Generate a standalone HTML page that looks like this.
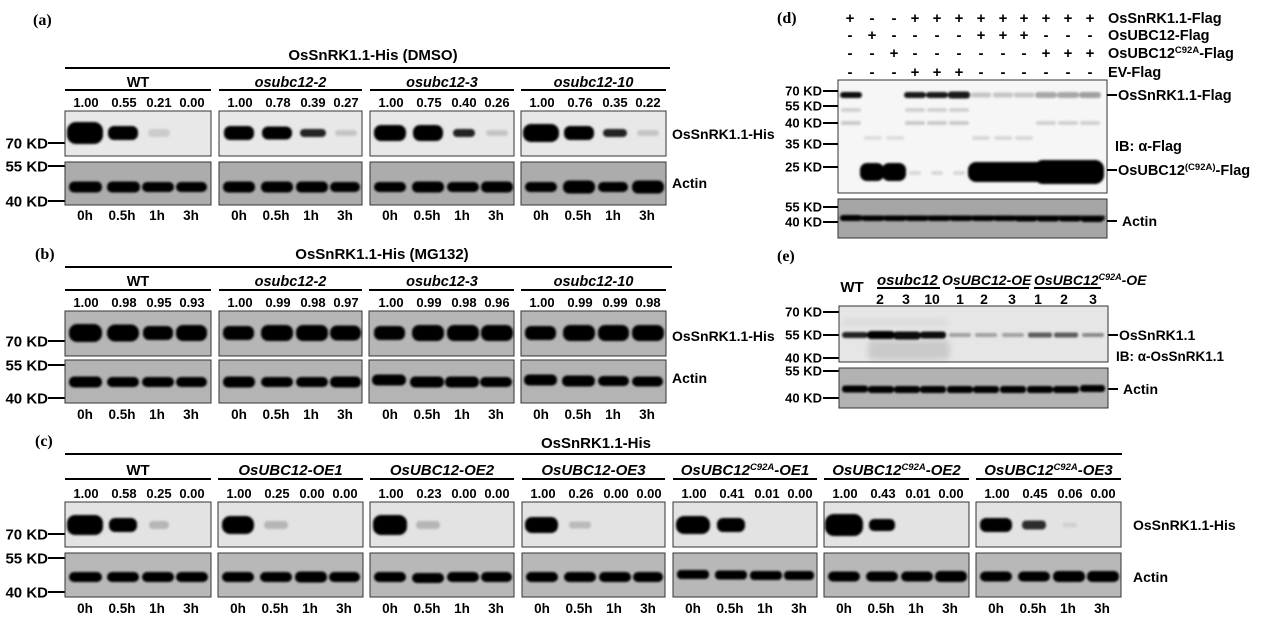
<!DOCTYPE html>
<html><head><meta charset="utf-8">
<style>
html,body{margin:0;padding:0;background:#fff;}
svg{display:block}
text{font-family:"Liberation Sans",Arial,sans-serif;font-weight:bold;fill:#000}
.n{font-size:13px;text-anchor:middle}
.h{font-size:13.5px;text-anchor:middle}
.g{font-size:14.5px;text-anchor:middle}
.gc{font-size:15px;text-anchor:middle;font-style:italic}
.i{font-style:italic}
.m{font-size:15px;text-anchor:end}
.m2{font-size:13px;text-anchor:end}
.p{font-family:"Liberation Serif",serif;font-size:16px}
.r{font-size:14px}
.rl{font-size:14.5px}
.pm{font-size:15px;text-anchor:middle}
</style></head><body>
<svg width="1279" height="621" viewBox="0 0 1279 621" xmlns="http://www.w3.org/2000/svg">
<defs>
<filter id="f" x="-30%" y="-100%" width="160%" height="300%"><feGaussianBlur stdDeviation="1"/></filter>
<filter id="f3" x="-30%" y="-100%" width="160%" height="300%"><feGaussianBlur stdDeviation="3"/></filter>
</defs>

<!-- ================= (a) ================= -->
<text class="p" x="33" y="25">(a)</text>
<text class="g" x="373" y="60" style="font-size:15px">OsSnRK1.1-His (DMSO)</text>
<g stroke="#000" stroke-width="2">
<line x1="65" y1="68" x2="670" y2="68"/>
<line x1="65" y1="90" x2="211" y2="90"/>
<line x1="219" y1="90" x2="362" y2="90"/>
<line x1="370" y1="90" x2="514" y2="90"/>
<line x1="521" y1="90" x2="666" y2="90"/>
<line x1="48" y1="143" x2="65" y2="143"/>
<line x1="48" y1="166" x2="65" y2="166"/>
<line x1="48" y1="201" x2="65" y2="201"/>
</g>
<text class="g" x="138" y="87">WT</text>
<text class="g i" x="290.5" y="87">osubc12-2</text>
<text class="g i" x="442" y="87">osubc12-3</text>
<text class="g i" x="593.5" y="87">osubc12-10</text>

<text class="n" x="86" y="107">1.00</text><text class="n" x="124" y="107">0.55</text><text class="n" x="159" y="107">0.21</text><text class="n" x="192" y="107">0.00</text>
<text class="n" x="240" y="107">1.00</text><text class="n" x="278" y="107">0.78</text><text class="n" x="313" y="107">0.39</text><text class="n" x="346" y="107">0.27</text>
<text class="n" x="391" y="107">1.00</text><text class="n" x="429" y="107">0.75</text><text class="n" x="464" y="107">0.40</text><text class="n" x="497" y="107">0.26</text>
<text class="n" x="542" y="107">1.00</text><text class="n" x="580" y="107">0.76</text><text class="n" x="615" y="107">0.35</text><text class="n" x="648" y="107">0.22</text>

<g stroke="#333" stroke-width="1">
<rect x="65" y="111" width="146" height="45" fill="#e8e8e8"/>
<rect x="219" y="111" width="143" height="45" fill="#e8e8e8"/>
<rect x="370" y="111" width="144" height="45" fill="#e8e8e8"/>
<rect x="521" y="111" width="145" height="45" fill="#e8e8e8"/>
<rect x="65" y="162" width="146" height="43" fill="#acacac"/>
<rect x="219" y="162" width="143" height="43" fill="#acacac"/>
<rect x="370" y="162" width="144" height="43" fill="#acacac"/>
<rect x="521" y="162" width="145" height="43" fill="#acacac"/>
</g>
<g filter="url(#f)" fill="#000">
<rect x="67" y="122" width="36" height="22" rx="9"/>
<rect x="108" y="126" width="30" height="14" rx="6"/>
<rect x="148" y="129" width="22" height="8" rx="4" opacity=".12"/>
<rect x="224" y="126" width="30" height="14" rx="6"/>
<rect x="262" y="126.5" width="30" height="13" rx="6"/>
<rect x="300" y="129" width="26" height="8" rx="4" opacity=".85"/>
<rect x="335" y="130" width="22" height="6" rx="3" opacity=".15"/>
<rect x="374" y="125" width="32" height="16" rx="7"/>
<rect x="413" y="125" width="30" height="16" rx="7"/>
<rect x="453" y="129" width="22" height="8" rx="4" opacity=".85"/>
<rect x="486" y="130" width="22" height="6" rx="3" opacity=".15"/>
<rect x="523" y="124" width="36" height="18" rx="8"/>
<rect x="564" y="126" width="30" height="14" rx="6"/>
<rect x="603" y="129" width="24" height="8" rx="4" opacity=".85"/>
<rect x="637" y="130" width="22" height="6" rx="3" opacity=".15"/>
<!-- actin -->
<rect x="69" y="181.5" width="33" height="11" rx="5"/><rect x="107" y="181.5" width="33" height="11" rx="5"/><rect x="142" y="182" width="32" height="10" rx="5"/><rect x="176" y="182" width="31" height="10" rx="5"/>
<rect x="223" y="181.5" width="32" height="11" rx="5"/><rect x="261" y="181.5" width="32" height="11" rx="5"/><rect x="296" y="181.5" width="32" height="11" rx="5"/><rect x="330" y="182" width="30" height="10" rx="5"/>
<rect x="374" y="182" width="32" height="10" rx="5"/><rect x="412" y="181.5" width="32" height="11" rx="5"/><rect x="447" y="182" width="32" height="10" rx="5"/><rect x="481" y="181.5" width="32" height="11" rx="5"/>
<rect x="525" y="182" width="32" height="10" rx="5"/><rect x="563" y="180.5" width="32" height="13" rx="6"/><rect x="598" y="182" width="30" height="10" rx="5"/><rect x="632" y="180.5" width="32" height="13" rx="6"/>
</g>
<text class="m" x="48" y="148.5">70 KD</text>
<text class="m" x="48" y="171.5">55 KD</text>
<text class="m" x="48" y="206.5">40 KD</text>
<text class="r" x="672" y="139">OsSnRK1.1-His</text>
<text class="r" x="672" y="188">Actin</text>

<text class="h" x="85" y="220">0h</text><text class="h" x="122" y="220">0.5h</text><text class="h" x="157" y="220">1h</text><text class="h" x="191" y="220">3h</text>
<text class="h" x="239" y="220">0h</text><text class="h" x="276" y="220">0.5h</text><text class="h" x="311" y="220">1h</text><text class="h" x="345" y="220">3h</text>
<text class="h" x="390" y="220">0h</text><text class="h" x="427" y="220">0.5h</text><text class="h" x="462" y="220">1h</text><text class="h" x="496" y="220">3h</text>
<text class="h" x="541" y="220">0h</text><text class="h" x="578" y="220">0.5h</text><text class="h" x="613" y="220">1h</text><text class="h" x="647" y="220">3h</text>

<!-- ================= (b) ================= -->
<text class="p" x="35" y="259">(b)</text>
<text class="g" x="382" y="259" style="font-size:15px">OsSnRK1.1-His (MG132)</text>
<g stroke="#000" stroke-width="2">
<line x1="65" y1="267" x2="672" y2="267"/>
<line x1="65" y1="290" x2="211" y2="290"/>
<line x1="219" y1="290" x2="362" y2="290"/>
<line x1="369" y1="290" x2="514" y2="290"/>
<line x1="521" y1="290" x2="666" y2="290"/>
<line x1="48" y1="341" x2="65" y2="341"/>
<line x1="48" y1="365" x2="65" y2="365"/>
<line x1="48" y1="398" x2="65" y2="398"/>
</g>
<text class="g" x="138" y="286">WT</text>
<text class="g i" x="290.5" y="286">osubc12-2</text>
<text class="g i" x="442" y="286">osubc12-3</text>
<text class="g i" x="593.5" y="286">osubc12-10</text>

<text class="n" x="86" y="307">1.00</text><text class="n" x="124" y="307">0.98</text><text class="n" x="159" y="307">0.95</text><text class="n" x="192" y="307">0.93</text>
<text class="n" x="240" y="307">1.00</text><text class="n" x="278" y="307">0.99</text><text class="n" x="313" y="307">0.98</text><text class="n" x="346" y="307">0.97</text>
<text class="n" x="391" y="307">1.00</text><text class="n" x="429" y="307">0.99</text><text class="n" x="464" y="307">0.98</text><text class="n" x="497" y="307">0.96</text>
<text class="n" x="542" y="307">1.00</text><text class="n" x="580" y="307">0.99</text><text class="n" x="615" y="307">0.99</text><text class="n" x="648" y="307">0.98</text>

<g stroke="#333" stroke-width="1">
<rect x="65" y="311" width="146" height="45" fill="#b6b6b6"/>
<rect x="219" y="311" width="143" height="45" fill="#b6b6b6"/>
<rect x="369" y="311" width="145" height="45" fill="#b6b6b6"/>
<rect x="521" y="311" width="145" height="45" fill="#b6b6b6"/>
<rect x="65" y="360" width="146" height="43" fill="#b4b4b4"/>
<rect x="219" y="360" width="143" height="43" fill="#b4b4b4"/>
<rect x="369" y="360" width="145" height="43" fill="#b4b4b4"/>
<rect x="521" y="360" width="145" height="43" fill="#b4b4b4"/>
</g>
<g filter="url(#f)" fill="#000">
<rect x="69" y="324" width="33" height="18" rx="8"/><rect x="107" y="324.5" width="32" height="17" rx="8"/><rect x="143" y="326" width="30" height="14" rx="6"/><rect x="176" y="325" width="31" height="16" rx="7"/>
<rect x="223" y="326" width="31" height="14" rx="6"/><rect x="261" y="325" width="32" height="16" rx="7"/><rect x="296" y="325" width="32" height="16" rx="7"/><rect x="330" y="325.5" width="31" height="15" rx="7"/>
<rect x="374" y="326" width="31" height="14" rx="6"/><rect x="412" y="325" width="32" height="16" rx="7"/><rect x="447" y="325" width="32" height="16" rx="7"/><rect x="481" y="325" width="32" height="16" rx="7"/>
<rect x="525" y="326" width="31" height="14" rx="6"/><rect x="563" y="325" width="32" height="16" rx="7"/><rect x="598" y="325" width="31" height="16" rx="7"/><rect x="632" y="325" width="32" height="16" rx="7"/>
<!-- actin -->
<rect x="69" y="376.5" width="33" height="11" rx="5"/><rect x="107" y="377" width="32" height="10" rx="5"/><rect x="142" y="377" width="32" height="10" rx="5"/><rect x="176" y="377" width="31" height="10" rx="5"/>
<rect x="223" y="376.5" width="32" height="11" rx="5"/><rect x="261" y="377" width="32" height="10" rx="5"/><rect x="296" y="377" width="32" height="10" rx="5"/><rect x="330" y="376.5" width="31" height="11" rx="5"/>
<rect x="372" y="374.5" width="34" height="11" rx="5"/><rect x="410" y="376.5" width="34" height="11" rx="5"/><rect x="445" y="376.5" width="34" height="11" rx="5"/><rect x="480" y="377" width="32" height="10" rx="5"/>
<rect x="524" y="374.5" width="33" height="11" rx="5"/><rect x="562" y="375.5" width="33" height="11" rx="5"/><rect x="598" y="376" width="31" height="10" rx="5"/><rect x="632" y="376.5" width="31" height="10" rx="5"/>
</g>
<text class="m" x="48" y="346.5">70 KD</text>
<text class="m" x="48" y="370.5">55 KD</text>
<text class="m" x="48" y="403.5">40 KD</text>
<text class="r" x="672" y="341">OsSnRK1.1-His</text>
<text class="r" x="672" y="383">Actin</text>

<text class="h" x="85" y="419">0h</text><text class="h" x="122" y="419">0.5h</text><text class="h" x="157" y="419">1h</text><text class="h" x="191" y="419">3h</text>
<text class="h" x="239" y="419">0h</text><text class="h" x="276" y="419">0.5h</text><text class="h" x="311" y="419">1h</text><text class="h" x="345" y="419">3h</text>
<text class="h" x="390" y="419">0h</text><text class="h" x="427" y="419">0.5h</text><text class="h" x="462" y="419">1h</text><text class="h" x="496" y="419">3h</text>
<text class="h" x="541" y="419">0h</text><text class="h" x="578" y="419">0.5h</text><text class="h" x="613" y="419">1h</text><text class="h" x="647" y="419">3h</text>

<!-- ================= (c) ================= -->
<text class="p" x="35" y="446">(c)</text>
<text class="g" x="596" y="448" style="font-size:15px">OsSnRK1.1-His</text>
<g stroke="#000" stroke-width="2">
<line x1="65" y1="454" x2="1122" y2="454"/>
<line x1="65" y1="479" x2="211" y2="479"/>
<line x1="218" y1="479" x2="363" y2="479"/>
<line x1="370" y1="479" x2="514" y2="479"/>
<line x1="522" y1="479" x2="665" y2="479"/>
<line x1="673" y1="479" x2="817" y2="479"/>
<line x1="824" y1="479" x2="969" y2="479"/>
<line x1="976" y1="479" x2="1121" y2="479"/>
<line x1="48" y1="534" x2="65" y2="534"/>
<line x1="48" y1="558" x2="65" y2="558"/>
<line x1="48" y1="592" x2="65" y2="592"/>
</g>
<text class="g" x="138" y="475" style="font-size:15px">WT</text>
<text class="gc" x="290.5" y="475">OsUBC12-OE1</text>
<text class="gc" x="442" y="475">OsUBC12-OE2</text>
<text class="gc" x="593.5" y="475">OsUBC12-OE3</text>
<text class="gc" x="745" y="475">OsUBC12<tspan font-size="9.5" dy="-5">C92A</tspan><tspan dy="5">-OE1</tspan></text>
<text class="gc" x="896.5" y="475">OsUBC12<tspan font-size="9.5" dy="-5">C92A</tspan><tspan dy="5">-OE2</tspan></text>
<text class="gc" x="1048.5" y="475">OsUBC12<tspan font-size="9.5" dy="-5">C92A</tspan><tspan dy="5">-OE3</tspan></text>

<text class="n" x="86" y="498">1.00</text><text class="n" x="124" y="498">0.58</text><text class="n" x="159" y="498">0.25</text><text class="n" x="192" y="498">0.00</text>
<text class="n" x="239" y="498">1.00</text><text class="n" x="277" y="498">0.25</text><text class="n" x="312" y="498">0.00</text><text class="n" x="345" y="498">0.00</text>
<text class="n" x="391" y="498">1.00</text><text class="n" x="429" y="498">0.23</text><text class="n" x="464" y="498">0.00</text><text class="n" x="497" y="498">0.00</text>
<text class="n" x="543" y="498">1.00</text><text class="n" x="581" y="498">0.26</text><text class="n" x="616" y="498">0.00</text><text class="n" x="649" y="498">0.00</text>
<text class="n" x="694" y="498">1.00</text><text class="n" x="732" y="498">0.41</text><text class="n" x="767" y="498">0.01</text><text class="n" x="800" y="498">0.00</text>
<text class="n" x="845" y="498">1.00</text><text class="n" x="883" y="498">0.43</text><text class="n" x="918" y="498">0.01</text><text class="n" x="951" y="498">0.00</text>
<text class="n" x="997" y="498">1.00</text><text class="n" x="1035" y="498">0.45</text><text class="n" x="1070" y="498">0.06</text><text class="n" x="1103" y="498">0.00</text>

<g stroke="#333" stroke-width="1">
<rect x="65" y="502" width="146" height="45" fill="#e3e3e3"/>
<rect x="218" y="502" width="145" height="45" fill="#e3e3e3"/>
<rect x="370" y="502" width="144" height="45" fill="#e3e3e3"/>
<rect x="522" y="502" width="143" height="45" fill="#e3e3e3"/>
<rect x="673" y="502" width="144" height="45" fill="#e3e3e3"/>
<rect x="824" y="502" width="145" height="45" fill="#e3e3e3"/>
<rect x="976" y="502" width="145" height="45" fill="#e3e3e3"/>
<rect x="65" y="553" width="146" height="44" fill="#b8b8b8"/>
<rect x="218" y="553" width="145" height="44" fill="#b8b8b8"/>
<rect x="370" y="553" width="144" height="44" fill="#b8b8b8"/>
<rect x="522" y="553" width="143" height="44" fill="#b8b8b8"/>
<rect x="673" y="553" width="144" height="44" fill="#b8b8b8"/>
<rect x="824" y="553" width="145" height="44" fill="#b8b8b8"/>
<rect x="976" y="553" width="145" height="44" fill="#b8b8b8"/>
</g>
<g filter="url(#f)" fill="#000">
<rect x="67" y="515" width="36" height="20" rx="8"/>
<rect x="109" y="518" width="28" height="14" rx="6"/>
<rect x="149" y="521" width="20" height="8" rx="4" opacity=".2"/>
<rect x="222" y="516" width="32" height="18" rx="8"/>
<rect x="264" y="521" width="24" height="8" rx="4" opacity=".2"/>
<rect x="373" y="515" width="34" height="20" rx="8"/>
<rect x="416" y="521" width="24" height="8" rx="4" opacity=".2"/>
<rect x="525" y="517" width="33" height="16" rx="7"/>
<rect x="569" y="521.5" width="22" height="7" rx="3" opacity=".18"/>
<rect x="676" y="516" width="34" height="18" rx="8"/>
<rect x="717" y="518" width="28" height="14" rx="6"/>
<rect x="825" y="514" width="38" height="22" rx="9"/>
<rect x="869" y="519" width="26" height="12" rx="5"/>
<rect x="980" y="518" width="32" height="14" rx="6"/>
<rect x="1022" y="520.5" width="24" height="9" rx="4" opacity=".8"/>
<rect x="1063" y="522.5" width="14" height="5" rx="2" opacity=".08"/>
<!-- actin -->
<rect x="69" y="572" width="33" height="10" rx="5"/><rect x="107" y="572" width="32" height="10" rx="5"/><rect x="142" y="572" width="32" height="10" rx="5"/><rect x="176" y="572" width="32" height="10" rx="5"/>
<rect x="222" y="572" width="32" height="10" rx="5"/><rect x="260" y="572" width="32" height="10" rx="5"/><rect x="295" y="571.5" width="32" height="11" rx="5"/><rect x="329" y="572" width="31" height="10" rx="5"/>
<rect x="374" y="572" width="32" height="10" rx="5"/><rect x="412" y="573" width="32" height="10" rx="5"/><rect x="447" y="572" width="32" height="10" rx="5"/><rect x="481" y="572" width="31" height="10" rx="5"/>
<rect x="526" y="572" width="32" height="10" rx="5"/><rect x="564" y="572" width="32" height="10" rx="5"/><rect x="599" y="572" width="32" height="10" rx="5"/><rect x="633" y="572" width="30" height="10" rx="5"/>
<rect x="677" y="570" width="32" height="9" rx="4"/><rect x="715" y="570.5" width="32" height="9" rx="4"/><rect x="750" y="571" width="32" height="9" rx="4"/><rect x="784" y="571" width="30" height="9" rx="4"/>
<rect x="828" y="571.5" width="32" height="10" rx="5"/><rect x="866" y="571.5" width="32" height="10" rx="5"/><rect x="901" y="571.5" width="32" height="10" rx="5"/><rect x="935" y="571" width="32" height="11" rx="5"/>
<rect x="980" y="571.5" width="32" height="10" rx="5"/><rect x="1018" y="571.5" width="32" height="10" rx="5"/><rect x="1053" y="571" width="32" height="11" rx="5"/><rect x="1087" y="571" width="32" height="11" rx="5"/>
</g>
<text class="m" x="48" y="539.5">70 KD</text>
<text class="m" x="48" y="563.5">55 KD</text>
<text class="m" x="48" y="597.5">40 KD</text>
<text class="r" x="1133" y="530">OsSnRK1.1-His</text>
<text class="r" x="1133" y="582">Actin</text>

<text class="h" x="85" y="613">0h</text><text class="h" x="122" y="613">0.5h</text><text class="h" x="157" y="613">1h</text><text class="h" x="191" y="613">3h</text>
<text class="h" x="238" y="613">0h</text><text class="h" x="275" y="613">0.5h</text><text class="h" x="310" y="613">1h</text><text class="h" x="344" y="613">3h</text>
<text class="h" x="390" y="613">0h</text><text class="h" x="427" y="613">0.5h</text><text class="h" x="462" y="613">1h</text><text class="h" x="496" y="613">3h</text>
<text class="h" x="542" y="613">0h</text><text class="h" x="579" y="613">0.5h</text><text class="h" x="614" y="613">1h</text><text class="h" x="648" y="613">3h</text>
<text class="h" x="693" y="613">0h</text><text class="h" x="730" y="613">0.5h</text><text class="h" x="765" y="613">1h</text><text class="h" x="799" y="613">3h</text>
<text class="h" x="844" y="613">0h</text><text class="h" x="881" y="613">0.5h</text><text class="h" x="916" y="613">1h</text><text class="h" x="950" y="613">3h</text>
<text class="h" x="996" y="613">0h</text><text class="h" x="1033" y="613">0.5h</text><text class="h" x="1068" y="613">1h</text><text class="h" x="1102" y="613">3h</text>

<!-- ================= (d) ================= -->
<text class="p" x="777" y="23">(d)</text>
<!-- row 1 -->
<text class="pm" x="850" y="23">+</text><text class="pm" x="872" y="23">-</text><text class="pm" x="894" y="23">-</text><text class="pm" x="915" y="23">+</text><text class="pm" x="937" y="23">+</text><text class="pm" x="959" y="23">+</text><text class="pm" x="981" y="23">+</text><text class="pm" x="1003" y="23">+</text><text class="pm" x="1024" y="23">+</text><text class="pm" x="1046" y="23">+</text><text class="pm" x="1068" y="23">+</text><text class="pm" x="1090" y="23">+</text>
<!-- row 2 -->
<text class="pm" x="850" y="40">-</text><text class="pm" x="872" y="40">+</text><text class="pm" x="894" y="40">-</text><text class="pm" x="915" y="40">-</text><text class="pm" x="937" y="40">-</text><text class="pm" x="959" y="40">-</text><text class="pm" x="981" y="40">+</text><text class="pm" x="1003" y="40">+</text><text class="pm" x="1024" y="40">+</text><text class="pm" x="1046" y="40">-</text><text class="pm" x="1068" y="40">-</text><text class="pm" x="1090" y="40">-</text>
<!-- row 3 -->
<text class="pm" x="850" y="58">-</text><text class="pm" x="872" y="58">-</text><text class="pm" x="894" y="58">+</text><text class="pm" x="915" y="58">-</text><text class="pm" x="937" y="58">-</text><text class="pm" x="959" y="58">-</text><text class="pm" x="981" y="58">-</text><text class="pm" x="1003" y="58">-</text><text class="pm" x="1024" y="58">-</text><text class="pm" x="1046" y="58">+</text><text class="pm" x="1068" y="58">+</text><text class="pm" x="1090" y="58">+</text>
<!-- row 4 -->
<text class="pm" x="850" y="77">-</text><text class="pm" x="872" y="77">-</text><text class="pm" x="894" y="77">-</text><text class="pm" x="915" y="77">+</text><text class="pm" x="937" y="77">+</text><text class="pm" x="959" y="77">+</text><text class="pm" x="981" y="77">-</text><text class="pm" x="1003" y="77">-</text><text class="pm" x="1024" y="77">-</text><text class="pm" x="1046" y="77">-</text><text class="pm" x="1068" y="77">-</text><text class="pm" x="1090" y="77">-</text>

<text class="rl" x="1108" y="23">OsSnRK1.1-Flag</text>
<text class="rl" x="1108" y="40">OsUBC12-Flag</text>
<text class="rl" x="1108" y="58">OsUBC12<tspan font-size="9.5" dy="-5">C92A</tspan><tspan dy="5">-Flag</tspan></text>
<text class="rl" x="1108" y="77">EV-Flag</text>

<g stroke="#333" stroke-width="1">
<rect x="838" y="80" width="269" height="113" fill="#f6f6f6"/>
<rect x="838" y="199" width="269" height="39" fill="#a6a6a6"/>
</g>
<g filter="url(#f)" fill="#000">
<rect x="840" y="92" width="22" height="6" rx="3" opacity=".95"/>
<rect x="904" y="92" width="22" height="6" rx="3" opacity=".9"/>
<rect x="926" y="92" width="22" height="6" rx="3" opacity=".9"/>
<rect x="948" y="91.5" width="22" height="7" rx="3" opacity=".9"/>
<rect x="971" y="92.5" width="20" height="5" rx="2" opacity=".2"/>
<rect x="993" y="92.5" width="20" height="5" rx="2" opacity=".2"/>
<rect x="1014" y="92.5" width="20" height="5" rx="2" opacity=".2"/>
<rect x="1035" y="92" width="22" height="6" rx="3" opacity=".32"/>
<rect x="1057" y="92" width="22" height="6" rx="3" opacity=".32"/>
<rect x="1079" y="92" width="22" height="6" rx="3" opacity=".35"/>
<!-- faint bands -->
<rect x="841" y="108" width="20" height="4" rx="2" opacity=".15"/>
<rect x="905" y="108" width="20" height="4" rx="2" opacity=".15"/>
<rect x="927" y="108" width="20" height="4" rx="2" opacity=".15"/>
<rect x="949" y="108" width="20" height="4" rx="2" opacity=".15"/>
<rect x="841" y="121" width="20" height="4" rx="2" opacity=".18"/>
<rect x="905" y="121" width="20" height="4" rx="2" opacity=".18"/>
<rect x="927" y="121" width="20" height="4" rx="2" opacity=".18"/>
<rect x="949" y="121" width="20" height="4" rx="2" opacity=".18"/>
<rect x="1036" y="121" width="20" height="4" rx="2" opacity=".15"/>
<rect x="1058" y="121" width="20" height="4" rx="2" opacity=".15"/>
<rect x="1080" y="121" width="20" height="4" rx="2" opacity=".15"/>
<rect x="864" y="136" width="18" height="4" rx="2" opacity=".1"/>
<rect x="886" y="136" width="18" height="4" rx="2" opacity=".1"/>
<rect x="972" y="136" width="18" height="4" rx="2" opacity=".12"/>
<rect x="994" y="136" width="18" height="4" rx="2" opacity=".12"/>
<rect x="1015" y="136" width="18" height="4" rx="2" opacity=".12"/>
<!-- 25 KD -->
<rect x="860" y="163" width="24" height="18" rx="7"/>
<rect x="882" y="163" width="24" height="18" rx="7"/>
<rect x="909" y="171" width="12" height="4" rx="2" opacity=".12"/>
<rect x="931" y="171" width="12" height="4" rx="2" opacity=".12"/>
<rect x="953" y="171" width="12" height="4" rx="2" opacity=".12"/>
<rect x="968" y="162" width="136" height="20" rx="8"/>
<rect x="1034" y="160" width="70" height="24" rx="9"/>
<!-- actin -->
<rect x="840" y="215.5" width="265" height="5" rx="2" opacity=".85"/>
<rect x="840" y="215" width="22" height="6" rx="3"/><rect x="862" y="215.5" width="22" height="5.5" rx="3"/><rect x="884" y="215.5" width="22" height="5.5" rx="3"/><rect x="906" y="215.5" width="22" height="5.5" rx="3"/><rect x="928" y="215.5" width="22" height="5.5" rx="3"/><rect x="950" y="215.5" width="22" height="5.5" rx="3"/><rect x="972" y="215.5" width="22" height="5.5" rx="3"/><rect x="994" y="215.5" width="22" height="5.5" rx="3"/><rect x="1015" y="216" width="22" height="5.5" rx="3"/><rect x="1037" y="216" width="22" height="5.5" rx="3"/><rect x="1059" y="216" width="22" height="5.5" rx="3"/><rect x="1081" y="216.5" width="22" height="5.5" rx="3"/>
</g>
<g stroke="#000" stroke-width="2">
<line x1="823" y1="91" x2="838" y2="91"/>
<line x1="823" y1="106" x2="838" y2="106"/>
<line x1="823" y1="123" x2="838" y2="123"/>
<line x1="823" y1="144" x2="838" y2="144"/>
<line x1="823" y1="167" x2="838" y2="167"/>
<line x1="823" y1="207" x2="838" y2="207"/>
<line x1="823" y1="222" x2="838" y2="222"/>
<line x1="1107" y1="95" x2="1117" y2="95"/>
<line x1="1107" y1="170" x2="1117" y2="170"/>
<line x1="1107" y1="221" x2="1117" y2="221"/>
</g>
<text class="m2" x="822" y="95.5">70 KD</text>
<text class="m2" x="822" y="110.5">55 KD</text>
<text class="m2" x="822" y="127.5">40 KD</text>
<text class="m2" x="822" y="148.5">35 KD</text>
<text class="m2" x="822" y="171.5">25 KD</text>
<text class="m2" x="822" y="211.5">55 KD</text>
<text class="m2" x="822" y="226.5">40 KD</text>
<text class="rl" x="1118" y="100">OsSnRK1.1-Flag</text>
<text class="rl" x="1115" y="151">IB: α-Flag</text>
<text class="rl" x="1118" y="175">OsUBC12<tspan font-size="9.5" dy="-5">(C92A)</tspan><tspan dy="5">-Flag</tspan></text>
<text class="r" x="1122" y="226">Actin</text>

<!-- ================= (e) ================= -->
<text class="p" x="777" y="261">(e)</text>
<text class="g" x="852" y="292" style="font-size:15px">WT</text>
<text class="r i" x="877" y="285" style="font-size:15px">osubc12</text>
<text class="r i" x="942" y="285">OsUBC12-OE</text>
<text class="r i" x="1034" y="285">OsUBC12<tspan font-size="9" dy="-5">C92A</tspan><tspan dy="5">-OE</tspan></text>
<g stroke="#000" stroke-width="2">
<line x1="877" y1="288" x2="940" y2="288"/>
<line x1="955" y1="288" x2="1029" y2="288"/>
<line x1="1034" y1="288" x2="1101" y2="288"/>
<line x1="823" y1="312" x2="839" y2="312"/>
<line x1="823" y1="335" x2="839" y2="335"/>
<line x1="823" y1="358" x2="839" y2="358"/>
<line x1="823" y1="371" x2="839" y2="371"/>
<line x1="823" y1="398" x2="839" y2="398"/>
<line x1="1108" y1="335" x2="1118" y2="335"/>
<line x1="1108" y1="389" x2="1118" y2="389"/>
</g>
<text class="pm" x="880" y="304" style="font-size:14px">2</text>
<text class="pm" x="906" y="304" style="font-size:14px">3</text>
<text class="pm" x="932" y="304" style="font-size:14px">10</text>
<text class="pm" x="960" y="304" style="font-size:14px">1</text>
<text class="pm" x="984" y="304" style="font-size:14px">2</text>
<text class="pm" x="1012" y="304" style="font-size:14px">3</text>
<text class="pm" x="1038" y="304" style="font-size:14px">1</text>
<text class="pm" x="1064" y="304" style="font-size:14px">2</text>
<text class="pm" x="1093" y="304" style="font-size:14px">3</text>

<g stroke="#333" stroke-width="1">
<rect x="839" y="306" width="269" height="56" fill="#e6e6e6"/>
<rect x="839" y="368" width="269" height="40" fill="#b2b2b2"/>
</g>
<g filter="url(#f3)" fill="#000">
<rect x="868" y="340" width="82" height="20" rx="6" opacity=".12"/>
<rect x="843" y="320" width="105" height="5" rx="2" opacity=".07"/>
</g>
<g filter="url(#f)" fill="#000">
<rect x="842" y="332" width="26" height="6" rx="3" opacity=".85"/>
<rect x="867" y="331" width="28" height="8" rx="4"/>
<rect x="893" y="331.5" width="28" height="8" rx="4" opacity=".95"/>
<rect x="920" y="331.5" width="26" height="7" rx="3" opacity=".95"/>
<rect x="949" y="333" width="22" height="4" rx="2" opacity=".3"/>
<rect x="975" y="333" width="22" height="4" rx="2" opacity=".3"/>
<rect x="1002" y="333" width="22" height="4" rx="2" opacity=".3"/>
<rect x="1028" y="332.5" width="24" height="5" rx="2" opacity=".6"/>
<rect x="1054" y="332.5" width="24" height="5" rx="2" opacity=".6"/>
<rect x="1082" y="333" width="22" height="4" rx="2" opacity=".4"/>
<!-- actin -->
<rect x="842" y="385.5" width="26" height="7" rx="3"/><rect x="868" y="386" width="26" height="7" rx="3"/><rect x="894" y="386" width="26" height="7" rx="3"/><rect x="920" y="386" width="26" height="7" rx="3"/><rect x="947" y="386" width="26" height="7" rx="3"/><rect x="973" y="386" width="26" height="7" rx="3"/><rect x="1000" y="386" width="26" height="7" rx="3"/><rect x="1027" y="386" width="26" height="7" rx="3"/><rect x="1053" y="386" width="26" height="7" rx="3"/><rect x="1080" y="385" width="25" height="7" rx="3"/>
</g>
<text class="m2" x="822" y="316.5">70 KD</text>
<text class="m2" x="822" y="339.5">55 KD</text>
<text class="m2" x="822" y="362.5">40 KD</text>
<text class="m2" x="822" y="375.5">55 KD</text>
<text class="m2" x="822" y="402.5">40 KD</text>
<text class="r" x="1119" y="340">OsSnRK1.1</text>
<text class="r" x="1116" y="361" style="font-size:13.5px">IB: α-OsSnRK1.1</text>
<text class="r" x="1123" y="394">Actin</text>
</svg>
</body></html>
